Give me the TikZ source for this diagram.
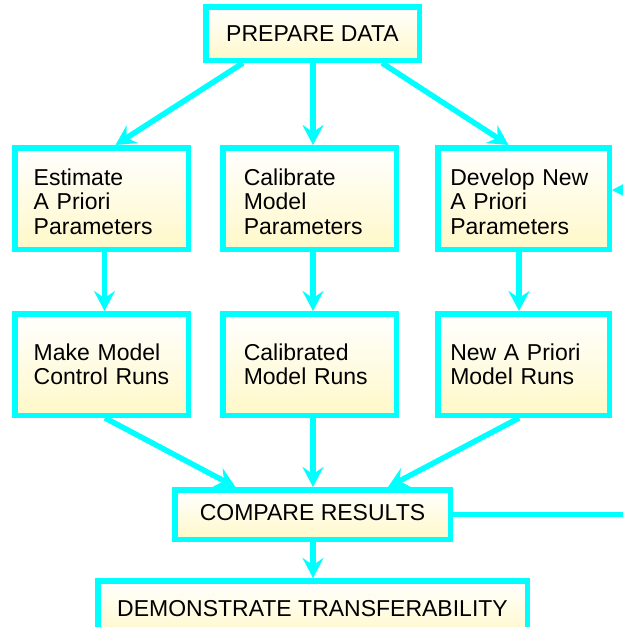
\documentclass[tikz,border=0pt]{standalone}
\usepackage{fontspec}
\setmainfont{Liberation Sans}
\usetikzlibrary{arrows.meta}
\definecolor{bord}{RGB}{0,255,255}
\definecolor{boxbot}{RGB}{255,248,200}
\begin{document}
\begin{tikzpicture}[x=1pt,y=-1pt,
  box/.style={draw=bord, line width=5.5pt, top color=white, bottom color=boxbot,
    font=\fontsize{23}{24.5}\selectfont, inner ysep=0pt},
  multi/.style={box, align=left, minimum height=101.5pt},
  conn/.style={draw=bord, line width=5.5pt},
  arr/.style={conn, -{Stealth[length=20pt,width=21pt,inset=7pt]}}
]
\useasboundingbox (0,0) rectangle (623,627);
\clip (0,0) rectangle (623,627);

\node[box, minimum width=213.5pt, minimum height=53.5pt] (prep) at (312.5,33.5) {PREPARE DATA};

\node[multi, text width=135.5pt, inner xsep=19pt] (est) at (101.5,198.5) {\rule{0pt}{23pt}Estimate\\A Priori\\Parameters};
\node[multi, text width=131.5pt, inner xsep=21pt] (cal) at (309.5,198.5) {\rule{0pt}{23pt}Calibrate\\Model\\Parameters};
\node[multi, text width=146.5pt, inner xsep=12.5pt] (dev) at (523.5,198.5) {\rule{0pt}{23pt}Develop New\\A Priori\\Parameters};

\node[multi, text width=135.5pt, inner xsep=19pt] (mm) at (101.5,364.5) {Make Model\\\mbox{Control Runs}};
\node[multi, text width=131.5pt, inner xsep=21pt] (crun) at (309.5,364.5) {Calibrated\\Model Runs};
\node[multi, text width=146.5pt, inner xsep=12.5pt] (nrun) at (523.5,364.5) {New A Priori\\Model Runs};

\node[box, minimum width=275.5pt, minimum height=49.5pt, text height=17pt, text depth=6pt] (cmp) at (312.5,514.5) {COMPARE RESULTS};
\node[box, minimum width=429.5pt, minimum height=56.5pt] (dem) at (312.5,609) {DEMONSTRATE TRANSFERABILITY};

\draw[arr] ([xshift=-69.5pt]prep.south) -- ([xshift=14pt]est.north);
\draw[arr] ([xshift=0.5pt]prep.south) -- ([xshift=3.5pt]cal.north);
\draw[arr] ([xshift=69.5pt]prep.south) -- ([xshift=-15pt]dev.north);

\draw[arr] ([xshift=3pt]est.south) -- ([xshift=3pt]mm.north);
\draw[arr] ([xshift=3.5pt]cal.south) -- ([xshift=3.5pt]crun.north);
\draw[arr] ([xshift=-4.5pt]dev.south) -- ([xshift=-4.5pt]nrun.north);

\draw[arr] ([xshift=3.5pt]mm.south) -- ([xshift=-77pt]cmp.north);
\draw[arr] ([xshift=3.5pt]crun.south) -- ([xshift=0.5pt]cmp.north);
\draw[arr] ([xshift=-4.5pt]nrun.south) -- ([xshift=75.5pt]cmp.north);

\draw[arr] ([xshift=0.5pt]cmp.south) -- ([xshift=0.5pt]dem.north);

\coordinate (rend) at (640,514.5);
\draw[conn] (cmp.east) -- (rend);
\coordinate (rin) at (640,190);
\draw[arr] (rin) -- (dev.east |- rin);
\end{tikzpicture}
\end{document}
